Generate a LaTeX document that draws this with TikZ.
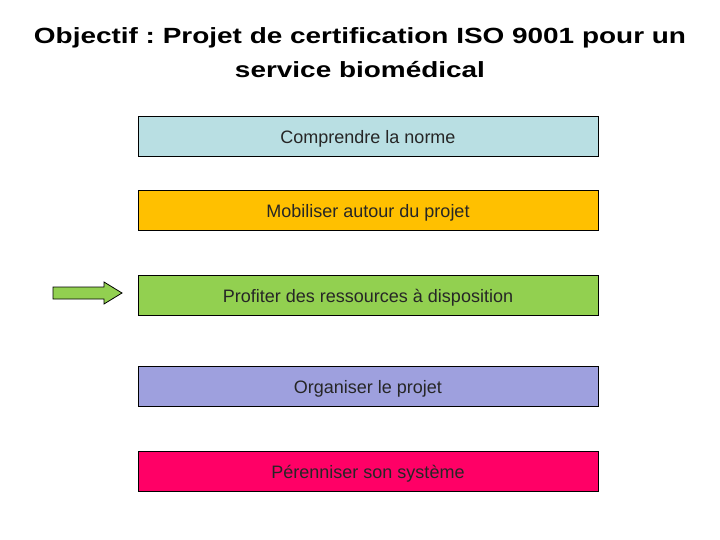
\documentclass[tikz,border=0pt]{standalone}
\usepackage{fontspec}
\setmainfont{Liberation Sans}
\newfontfamily\titlefont{Liberation Sans}[FakeStretch=1.27]
\frenchspacing
\definecolor{cBlue}{RGB}{185,223,227}
\definecolor{cOrange}{RGB}{255,192,0}
\definecolor{cGreen}{RGB}{146,208,80}
\definecolor{cLav}{RGB}{158,160,222}
\definecolor{cPink}{RGB}{255,0,102}
\begin{document}
\begin{tikzpicture}[x=1pt,y=-1pt,
  stepbox/.style={draw=black,line width=0.8pt,minimum width=460pt,minimum height=40pt,inner sep=0pt,text height=14.4pt,text depth=0pt,font=\fontsize{18}{21}\selectfont,text=black!85},
  title/.style={anchor=base,inner sep=0pt,font=\titlefont\bfseries\fontsize{22}{26}\selectfont}]
\useasboundingbox (0,0) rectangle (720,540);
\node[title] (t1) at (360,43.3) {Objectif : Projet de certification ISO 9001 pour un};
\node[title] (t2) at (360,77.8) {service biomédical};
\node[stepbox,fill=cBlue] (b1) at (368,136) {Comprendre la norme};
\node[stepbox,fill=cOrange] (b2) at (368,210) {Mobiliser autour du projet};
\node[stepbox,fill=cGreen] (b3) at (368,295) {Profiter des ressources à disposition};
\node[stepbox,fill=cLav] (b4) at (368,386) {Organiser le projet};
\node[stepbox,fill=cPink] (b5) at (368,471) {Pérenniser son système};
\draw[fill=cGreen,line width=0.8pt,line join=miter] (53,287) -- (104,287) -- (104,282) -- (122,293) -- (104,304) -- (104,299) -- (53,299) -- cycle;
\end{tikzpicture}
\end{document}
